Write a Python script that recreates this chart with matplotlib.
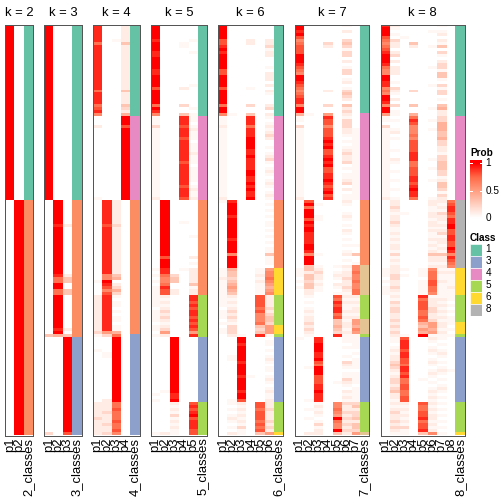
import numpy as np
import matplotlib
matplotlib.use("Agg")
import matplotlib.pyplot as plt
from matplotlib.colors import LinearSegmentedColormap, to_rgb
from matplotlib.patches import Rectangle

plt.rcParams['font.family'] = ['Liberation Sans', 'DejaVu Sans']

n_samples = 138
k_values = [2, 3, 4, 5, 6, 7, 8]

# Set2 colours for the class labels
class_colors = {1: "#66C2A5", 2: "#FC8D62", 3: "#8DA0CB", 4: "#E78AC3",
                5: "#A6D854", 6: "#FFD92F", 7: "#E5C494", 8: "#B3B3B3"}
legend_classes = [1, 3, 4, 5, 6, 8]
prob_ticks = [1.0, 0.5, 0.0]
prob_tick_labels = ["1", "0.5", "0"]

# class of each sample, top to bottom, as (class, run length)
classes_k2 = [(1, 59), (2, 79)]
classes_k3 = [(1, 59), (2, 46), (3, 33)]
classes_k4 = [(1, 31), (4, 28), (2, 45), (3, 34)]
classes_k5 = [(1, 31), (4, 28), (2, 32), (5, 14), (3, 22), (5, 11)]
classes_k6 = [(1, 31), (4, 28), (2, 23), (6, 9), (5, 10), (6, 3), (5, 1), (3, 22), (5, 10), (6, 1)]
classes_k7 = [(1, 30), (4, 29), (2, 22), (7, 10), (5, 8), (7, 5), (5, 1), (3, 22), (5, 10), (7, 1)]
classes_k8 = [(1, 31), (4, 28), (8, 23), (6, 9), (5, 9), (6, 4), (5, 1), (3, 22), (5, 10), (6, 1)]

# membership probability columns p1..pk, one char per sample (top to bottom)
# '0'-'9' -> 0.0-0.9, 'A' -> 1.0, 'f' -> faint; spaces and | only help reading
prob_k2 = [
    "AAAAAAAAAA AAAAAAAAAA AAAAAAAAAA A|AAAAAAAAAA AAAAAAAAAA AAAAAAAA|0000000000 0000000000 0000000000 00|0000000000 0000|0000000000 0000000000 00|0000000000 0",
    "0000000000 0000000000 0000000000 0|0000000000 0000000000 00000000|AAAAAAAAAA AAAAAAAAAA AAAAAAAAAA AA|AAAAAAAAAA AAAA|AAAAAAAAAA AAAAAAAAAA AA|AAAAAAAAAA A",
]
prob_k3 = [
    "AAAAAAAAAA AAAAAAAAAA AAAAAAAAAA A|AAAAAAAAAA AAAAAAAAAA AAAAAAAA|0000000000 0000000000 0000000000 00|0000000000 0003|0000000000 0000000000 00|0000000000 2",
    "0000000000 0000000000 0000000000 0|0000000000 0000000000 00000000|AAAAAAAA9A AAAAAAAAAA AAAAA977AA 77|AAAAAAAAAA A9A4|0000000000 0000000000 00|0000000000 0",
    "0000000000 0000000000 0000000000 0|0000000000 0000000000 00000000|0000000010 0000000000 0000013300 33|0000000000 0103|AAAAAAAAAA AAAAAAAAAA AA|AAAAAAAAAA 8",
]
prob_k4 = [
    "9999997999 9999999999 9979999789 6|0001000000 0000000000 0000000f|0000000000 0000000000 0000000f00 00|1111111111 112f|0000f00000 0000000000 00|1111121111 1",
    "0000000000 0000000000 0000000000 0|0000000000 0000000000 00000000|9999999989 9999999999 9999966A98 68|9999999999 9952|00000ff000 0000000000 01|1112111211 2",
    "00000f0000 0000000000 0000000000 0|0000000000 0000000000 00000000|1111111121 1111111111 1111134012 42|f0ff0f0ff0 ff47|AAAAAAAAAA AAAAAAAAAA AA|7787778778 6",
    "1111113111 1111111111 1131111321 4|AAA8AAAAAA AAAAAAAAAA AAAAAAAA|0000000000 0000000000 0000000000 00|0000000000 0000|0000000000 0000000000 00|0000000000 0",
]
prob_k5 = [
    "AAAAA9AAA9 9AAAA99AAA A8AAAAA7A9 6|fff2ffffff ffffffffff fffffff1|0000000000 0000000000 000f0f0f0f ff|ffff0ffff0 ff0f|0000000000 000000000f 0f|0000000000 f",
    "0000000000 0000000000 0000000000 0|0000000000 0000000000 00000000|AAAAAAAAAA AAAAAAAAA8 AAA9976679 88|1f1f12121f 1251|0000000000 00000000f0 00|0000000000 1",
    "0000000000 0000000000 0000000000 0|0000000000 0000000000 00000000|0000000000 0000000000 0000023300 11|0000000000 0000|AAAAAAAAAA AAAAAAAAA9 9A|1f1f2f1f1f f",
    "000000ff00 0000000000 0100000200 3|9998999899 9999989999 99989998|0000000f00 0000000000 000f000000 00|0000000000 0000|0000000000 0000000000 00|0000000000 0",
    "00000f000f 0000000000 f0000000f0 f|ff0f1fff0f ff1fff0fff ff0f1ff1|0000000000 00f0000001 0f0111113f 11|9989899898 9859|0000000000 0000000000 00|8989A89998 8",
]
prob_k6 = [
    "AAAAA889A9 AAAAA88AAA A8AAAAA7AA 6|fff1ffffff ffffffffff fffffff1|f000000000 0000000000 000fff1fff ff|ffff0fff0f 0ff0|0000000000 0000000000 00|0000000000 0",
    "0000000000 0000000000 0000000000 f|0000000000 0000000000 00000000|9AAAA9AAAA AAA9AAAA6A AAA4332345 43|1f1f12121f 2221|000000ff00 0000000000 0f|f0f0f1f0f0 1",
    "0000000000 0000000000 0000000000 0|0000000000 0000000000 00000000|0000000000 0000000000 0000000000 00|0000000000 000f|AA9AAAAA9A AAA9AAAA9A A8|1f1f1f1f2f f",
    "0000011000 0000000000 0f00000200 3|9997999AAA A99A9999AA 99A9A99A|0000000000 0000000000 0000000000 00|0000000000 0000|0000000000 000f000000 00|0000000000 0",
    "0000000000 0000000000 0000000000 0|0000000000 0000000000 00000000|0000000000 0000000000 000ff1f1ff ff|8888786667 3239|0000000000 0000000000 00|8878887878 3",
    "00000112f1 1000f01110 101f000120 1|f0f1f12100 f0f12f0f1f 0f1f0f1f|0f0f0f0ff0 f0f0f0ff3f ff05667654 56|1111212332 555f|0ff0f0f1f0 ff0f1f0f1f f1|1121112121 5",
]
prob_k7 = [
    "AA9A867888 AAA9876AA9 87678996AA 4|ff02ffffff ffffffffff fffffff1|0000000000 0000000000 000fff0f0f 00|0000000000 0000|f000000000 0000000000 00|0000000000 0",
    "0000000000 0000000000 0000000000 f|0000000000 0000000000 00000000|8A7AAA8A9A A9999AA96A AA33133233 11|f0f0f1f112 121f|0000000000 f000000000 0f|00f00f0000 1",
    "0000000000 0000000000 0000000000 0|0000000000 0000000000 00000000|0f000ff000 00000000f0 00f1211f1f f0|0000000000 0000|99AAA99A87 AAA88899A9 99|f1f1f0f2f1 1",
    "0000002100 0000000000 0010000200 5|98868889A9 A889A9A889 9A989A89|0000000000 0000000000 0000000000 00|0000000000 0000|0000000000 0000000000 00|0000000000 0",
    "0000000000 0000000000 0000000000 0|0000000000 0000000000 00000000|0000000000 0000000000 00f0f1f01f 0f|8798997833 4329|0000000000 00000f0000 00|66765A766A 3",
    "f0100232f2 2010f220f1 0f23210312 1|f22211f0f0 f121120f0f f12010ff|1f00f1f0f0 1f0f0f0f10 f01f112112 1f|1f1ff1f1f1 1f1f|ff0f00f021 f0ff21f01f 1f|2112121212 1",
    "0000000000 0000000000 0000000000 0|0000ffffff ffffffffff ffffffff|0000000000 00000f0030 0f66766766 77|1f1f11f155 465f|ffff0f0fff f0ffff0fff ff|2312231332 5",
]
prob_k8 = [
    "9AAA876789 AAA9766AA9 9676AA96AA 5|ff02ffffff ffffffffff fffffff1|0000000000 0000000000 000fff0f0f ff|0000000000 0000|0000000000 0000000000 00|0000000000 0",
    "1f0f021101 201011100f 021f01020f f|0f00f10f00 0f001f00f0 0f00f00f|1121f1121f f1f1f11f2f 1f11122112 1f|1f21221121 2121|ff0f1f1123 21f1221231 1f|1f12112121 f",
    "0000f00000 0000000000 0000000000 0|0000000000 0000000000 00000000|0000f00000 0000000000 000f0f0000 00|0000000000 000f|8999899887 9989778877 88|1f1f1f1f2f f",
    "0000003100 0000000000 0020000300 4|7986667688 8899977888 9989A997|0000000000 0000000000 0000000000 00|0000000000 0000|0000000000 0000000000 00|0000000000 0",
    "0000000000 0000000000 0000000000 0|0000000000 0000000000 00000000|0000000000 0000000000 000fff0fff ff|9788877874 354A|0000000000 0000f00000 00|8778897889 3",
    "00f0000f00 0000f00000 f0000000f0 0|0f00f00000 0000f00f00 0f00000f|11ff11f11f 1ff1f1f131 1f16777887 76|f111221125 545f|1f0f1f0f1f 0f1f0f0f1f 1f|1f1f11f1f1 6",
    "f0f101f302 f0122f33f0 2f220f0341 1|2244433422 11f2233322 f1332f21|1f1f211f1f 12f11f1f31 1f1f1ff1ff ff|f1f1f1f1f1 1f1f|f0f0f1f0f0 f1f0f0f1f0 f0|f0f0f0f0f0 f",
    "0000000000 0000000000 0000000000 0|0000000000 0000000000 00000000|78998799AA 889988A969 876f1ffff1 ff|ff0f0f0fff 0f0f|0000000000 0f00000000 00|0000000000 0",
]

all_probs = [prob_k2, prob_k3, prob_k4, prob_k5, prob_k6, prob_k7, prob_k8]
all_classes = [classes_k2, classes_k3, classes_k4, classes_k5, classes_k6, classes_k7, classes_k8]

LEVEL = {str(d): d / 10 for d in range(10)}
LEVEL.update({"A": 1.0, "f": 0.04})


def decode(col):
    s = col.replace(" ", "").replace("|", "")
    if len(s) != n_samples:
        raise ValueError(f"column has {len(s)} rows: {col}")
    return [LEVEL[c] for c in s]


def expand(runs):
    out = []
    for c, n in runs:
        out += [c] * n
    if len(out) != n_samples:
        raise ValueError(f"classes have {len(out)} rows")
    return out


# white -> red ramp (approximates LAB interpolation)
cmap = LinearSegmentedColormap.from_list(
    "prob", [(0, "#FFFFFF"), (0.25, "#FFCFBF"), (0.5, "#FF9E81"), (0.75, "#FF6846"), (1, "#FF0000")])

fig = plt.figure(figsize=(7, 7), dpi=72)
W = 504.0
top_px, bot_px = 24.5, 435.5
col_px, gap_px = 9.33, 11.3
border = "#555555"


def fig_rect(x0, y0, x1, y1):
    # pixel box (y from top) -> figure fraction
    return [x0 / W, 1 - y1 / W, (x1 - x0) / W, (y1 - y0) / W]


x = 5.0
for k, probs, runs in zip(k_values, all_probs, all_classes):
    width = (k + 1) * col_px
    ax = fig.add_axes(fig_rect(x, top_px, x + width, bot_px))
    mat = np.array([decode(c) for c in probs]).T
    ax.imshow(mat, cmap=cmap, vmin=0, vmax=1, aspect="auto", interpolation="nearest",
              extent=(-0.5, k - 0.5, n_samples - 0.5, -0.5))
    rgb = np.array([to_rgb(class_colors[c]) for c in expand(runs)])[:, None, :]
    ax.imshow(rgb, aspect="auto", interpolation="nearest",
              extent=(k - 0.5, k + 0.5, n_samples - 0.5, -0.5))
    ax.set_xlim(-0.5, k + 0.5)
    ax.set_ylim(n_samples - 0.5, -0.5)
    labels = [f"p{i}" for i in range(1, k + 1)] + [f"{k}_classes"]
    ax.set_xticks(range(k + 1))
    ax.set_xticklabels(labels, rotation=90, fontsize=13)
    ax.set_yticks([])
    ax.tick_params(axis="x", length=0, pad=2)
    ax.set_title(f"k = {k}", fontsize=13, pad=9)
    for sp in ax.spines.values():
        sp.set_color(border)
        sp.set_linewidth(1.0)
    x += width + gap_px

# legend: probability colour bar
lx0, lx1 = 470.0, 482.0
fig.text(lx0 / W, 1 - 156.5 / W, "Prob", fontsize=10, fontweight="bold", ha="left", va="baseline")
cb_top, cb_bot = 160.0, 220.0
tick_top, tick_bot = 163.0, 218.0
cax = fig.add_axes(fig_rect(lx0, cb_top, lx1, cb_bot))
yy = np.linspace(cb_top, cb_bot, 240)
grad = np.clip((tick_bot - yy) / (tick_bot - tick_top), 0, 1)
cax.imshow(grad[:, None], cmap=cmap, vmin=0, vmax=1, aspect="auto",
           extent=(0, 1, cb_bot, cb_top))
cax.set_xlim(0, 1)
cax.set_ylim(cb_bot, cb_top)
cax.axis("off")
for v, lab in zip(prob_ticks, prob_tick_labels):
    ty = tick_bot - v * (tick_bot - tick_top)
    cax.plot([0, 0.2], [ty, ty], color="white", lw=1)
    cax.plot([0.8, 1], [ty, ty], color="white", lw=1)
    fig.text(485.5 / W, 1 - ty / W, lab, fontsize=10, ha="left", va="center")

# legend: classes
fig.text(lx0 / W, 1 - 240.5 / W, "Class", fontsize=10, fontweight="bold", ha="left", va="baseline")
lax = fig.add_axes(fig_rect(lx0, 243.5, lx1, 243.5 + 12 * len(legend_classes)))
lax.set_xlim(0, 1)
lax.set_ylim(len(legend_classes), 0)
lax.axis("off")
for i, c in enumerate(legend_classes):
    lax.add_patch(Rectangle((0, i), 1, 1, facecolor=class_colors[c], edgecolor="white", lw=0.6))
    fig.text(485.5 / W, 1 - (243.5 + 12 * i + 6) / W, str(c), fontsize=10, ha="left", va="center")

fig.savefig("out.png", dpi=72)
